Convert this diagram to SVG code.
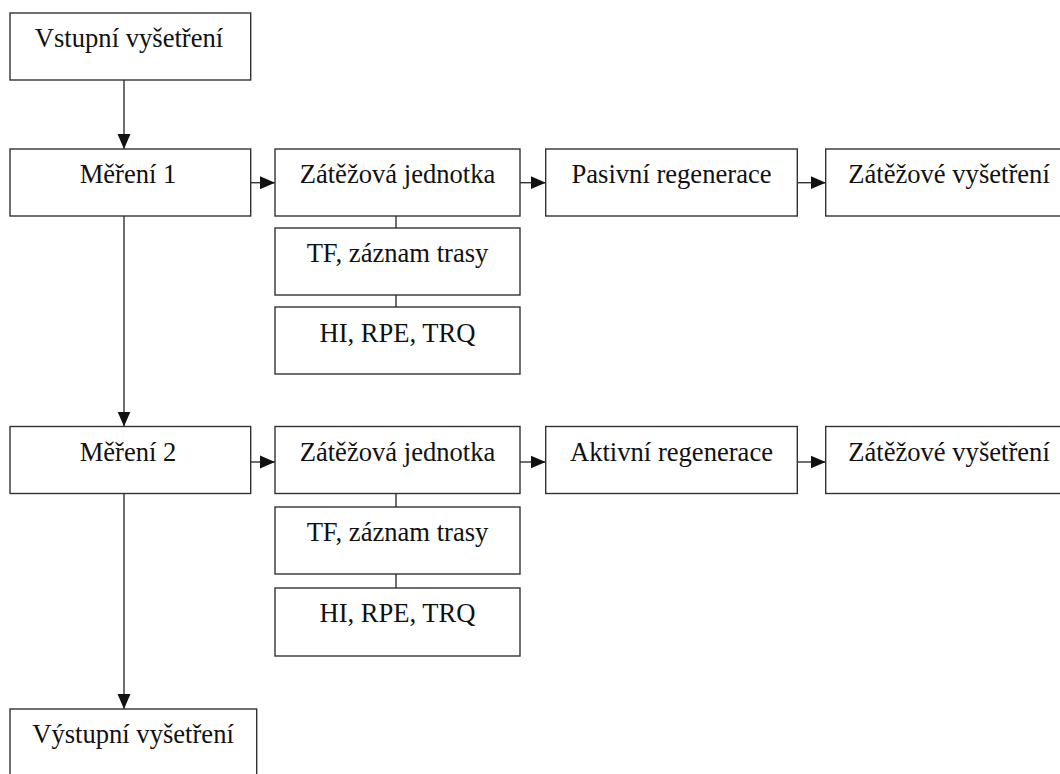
<svg xmlns="http://www.w3.org/2000/svg" width="1060" height="774" viewBox="0 0 1060 774">
<style>
.box{fill:#fff;stroke:#333;stroke-width:1.4}
.lbl{font-family:'Liberation Serif','Times New Roman','DejaVu Serif',serif;font-size:26.6px;fill:#111;text-anchor:middle}
.con{stroke:#333;stroke-width:1.4;fill:none}
</style>
<defs>
<marker id="arr" markerUnits="userSpaceOnUse" markerWidth="16" markerHeight="14" refX="15" refY="7" orient="auto">
<path d="M0,0.5 L15,7 L0,13.5 z" fill="#111"/>
</marker>
</defs>
<rect width="1060" height="774" fill="#fff"/>
<g id="connectors">
<line class="con" x1="124" y1="80" x2="124" y2="149" marker-end="url(#arr)"/>
<line class="con" x1="124" y1="216" x2="124" y2="426.5" marker-end="url(#arr)"/>
<line class="con" x1="124" y1="493.5" x2="124" y2="709" marker-end="url(#arr)"/>
<line class="con" x1="250.7" y1="182.7" x2="275" y2="182.7" marker-end="url(#arr)"/>
<line class="con" x1="520" y1="182.7" x2="545.7" y2="182.7" marker-end="url(#arr)"/>
<line class="con" x1="797.3" y1="182.7" x2="825.7" y2="182.7" marker-end="url(#arr)"/>
<line class="con" x1="250.7" y1="462" x2="275" y2="462" marker-end="url(#arr)"/>
<line class="con" x1="520" y1="462" x2="545.7" y2="462" marker-end="url(#arr)"/>
<line class="con" x1="797.3" y1="462" x2="825.7" y2="462" marker-end="url(#arr)"/>
<line class="con" x1="396" y1="216" x2="396" y2="228"/>
<line class="con" x1="396" y1="295" x2="396" y2="307"/>
<line class="con" x1="396" y1="493.5" x2="396" y2="507"/>
<line class="con" x1="396" y1="574" x2="396" y2="588"/>
</g>
<g id="vstupni"><rect class="box" x="10" y="13" width="240.7" height="67"/><text class="lbl" x="129" y="47">Vstupní vyšetření</text></g>
<g id="mereni1"><rect class="box" x="10" y="149" width="240.7" height="67"/><text class="lbl" x="128" y="183">Měření 1</text></g>
<g id="zatez1"><rect class="box" x="275" y="149" width="245" height="67"/><text class="lbl" x="397.5" y="183">Zátěžová jednotka</text></g>
<g id="pasivni"><rect class="box" x="545.7" y="149" width="251.6" height="67"/><text class="lbl" x="671.5" y="183">Pasivní regenerace</text></g>
<g id="zatezvys1"><rect class="box" x="825.7" y="149" width="247" height="67"/><text class="lbl" x="949" y="183">Zátěžové vyšetření</text></g>
<g id="tf1"><rect class="box" x="275" y="228" width="245" height="67"/><text class="lbl" x="397.5" y="262">TF, záznam trasy</text></g>
<g id="hi1"><rect class="box" x="275" y="307" width="245" height="67"/><text class="lbl" x="397.5" y="342">HI, RPE, TRQ</text></g>
<g id="mereni2"><rect class="box" x="10" y="426.5" width="240.7" height="67"/><text class="lbl" x="128" y="461">Měření 2</text></g>
<g id="zatez2"><rect class="box" x="275" y="426.5" width="245" height="67"/><text class="lbl" x="397.5" y="461">Zátěžová jednotka</text></g>
<g id="aktivni"><rect class="box" x="545.7" y="426.5" width="251.6" height="67"/><text class="lbl" x="671.5" y="461">Aktivní regenerace</text></g>
<g id="zatezvys2"><rect class="box" x="825.7" y="426.5" width="247" height="67"/><text class="lbl" x="949" y="461">Zátěžové vyšetření</text></g>
<g id="tf2"><rect class="box" x="275" y="507" width="245" height="67"/><text class="lbl" x="397.5" y="541">TF, záznam trasy</text></g>
<g id="hi2"><rect class="box" x="275" y="588" width="245" height="68"/><text class="lbl" x="397.5" y="622">HI, RPE, TRQ</text></g>
<g id="vystupni"><rect class="box" x="10" y="709" width="246.7" height="80"/><text class="lbl" x="133" y="743">Výstupní vyšetření</text></g>
</svg>
